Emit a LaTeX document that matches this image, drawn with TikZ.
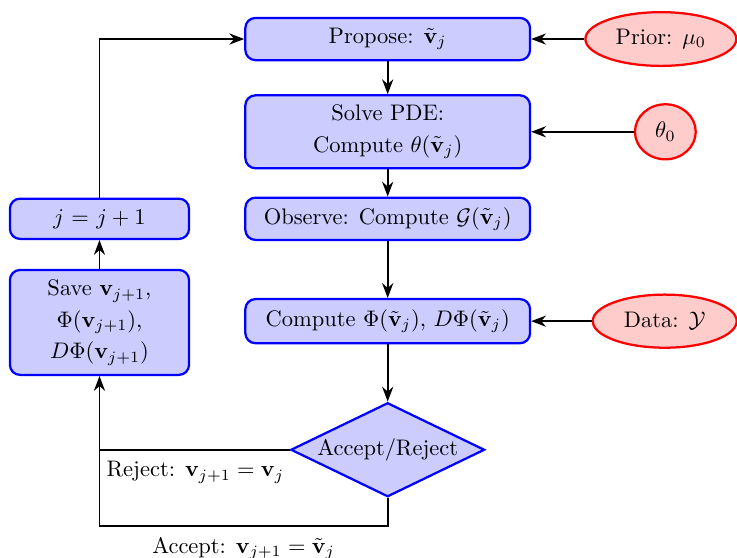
\documentclass[tikz,border=0pt]{standalone}
\usepackage{amsmath}
\usetikzlibrary{arrows.meta,positioning,shapes.geometric,calc}
\tikzset{
  >=Stealth,
  stage/.style={draw=blue,line width=1pt,rounded corners=4.5pt,fill=blue!20,
                inner sep=3pt,align=center,minimum width=4.45cm,minimum height=0.66cm},
  sidestage/.style={stage,minimum width=2.80cm},
  choice/.style={draw=blue,line width=1pt,diamond,aspect=2,fill=blue!20,inner sep=0pt,
                 minimum width=3.03cm,minimum height=1.47cm,align=center},
  source/.style={draw=red,line width=1pt,ellipse,fill=red!20,inner sep=3pt,align=center},
  flow/.style={->,thick},
  link/.style={thick},
  branchlbl/.style={inner sep=3pt},
}

\begin{document}
\begin{tikzpicture}
  \useasboundingbox (0,0) rectangle (11.52,-8.72);

  \node[stage] (propose) at (6.06,-0.61) {Propose: $\tilde{\mathbf{v}}_j$};
  \node[stage,minimum height=1.14cm] (solve) at (6.06,-2.06)
    {Solve PDE:\\[2pt]Compute $\theta(\tilde{\mathbf{v}}_j)$};
  \node[stage] (observe) at (6.06,-3.42)
    {Observe: Compute $\mathcal{G}(\tilde{\mathbf{v}}_j)$};
  \node[stage,minimum height=0.69cm] (potential) at (6.06,-5.02)
    {Compute $\Phi(\tilde{\mathbf{v}}_j)$, $D\Phi(\tilde{\mathbf{v}}_j)$};
  \node[choice] (decide) at (6.06,-7.03) {Accept/Reject};

  \node[sidestage,minimum height=0.63cm] (incr) at (1.555,-3.42) {$j$ = $j+1$};
  \node[sidestage,minimum height=1.64cm] (save) at (1.555,-5.04)
    {Save $\mathbf{v}_{j+1}$,\\[2pt]$\Phi(\mathbf{v}_{j+1})$,\\[2pt]$D\Phi(\mathbf{v}_{j+1})$};

  \node[source,minimum width=2.36cm,minimum height=0.84cm] (prior) at (10.33,-0.61)
    {Prior: $\mu_0$};
  \node[source,minimum width=0.95cm,minimum height=0.86cm] (theta) at (10.40,-2.06)
    {$\theta_0$};
  \node[source,minimum width=2.25cm,minimum height=0.83cm] (data) at (10.39,-5.02)
    {Data: $\mathcal{Y}$};

  \draw[flow] (prior.west) -- (propose.east);
  \draw[flow] (theta.west) -- (solve.east);
  \draw[flow] (data.west) -- (potential.east);

  \draw[flow] (propose) -- (solve);
  \draw[flow] (solve) -- (observe);
  \draw[flow] (observe) -- (potential);
  \draw[flow] (potential) -- (decide);

  \draw[flow] (decide.west) -- (save.south |- decide.west) -- (save.south);
  \node[branchlbl,anchor=north west,yshift=-2pt] (rejlbl) at (save.south |- decide.west)
    {Reject: $\mathbf{v}_{j+1}=\mathbf{v}_j$};

  \coordinate (acc) at ($(decide.south)+(0,-0.435)$);
  \draw[link] (decide.south) -- (acc) -- (acc -| save.south) -- (save.south |- decide.west);
  \node[branchlbl,anchor=north,yshift=-2pt] (acclbl) at ($(acc)!0.5!(acc -| save.south)$)
    {Accept: $\mathbf{v}_{j+1}=\tilde{\mathbf{v}}_j$};

  \draw[flow] (save) -- (incr);
  \draw[flow] (incr.north) -- (incr.north |- propose.west) -- (propose.west);
\end{tikzpicture}
\end{document}
